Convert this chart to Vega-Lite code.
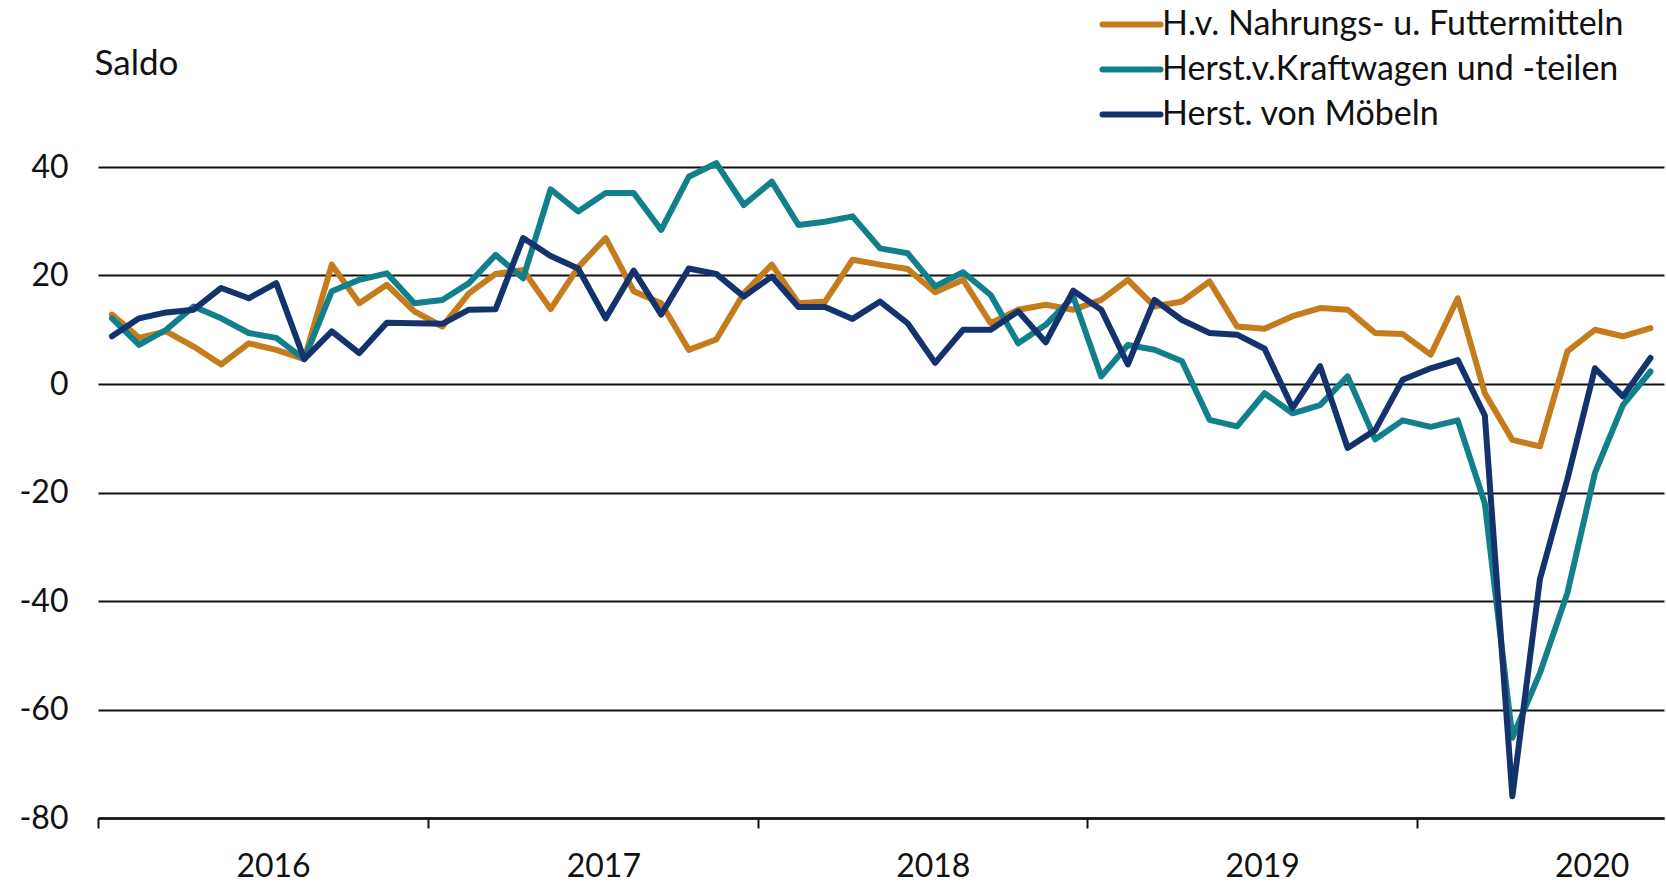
{
  "$schema": "https://vega.github.io/schema/vega-lite/v6.json",
  "width": 1566,
  "height": 651,
  "autosize": {"type": "none"},
  "padding": {"left": 98, "top": 167, "right": 2, "bottom": 65},
  "background": "white",
  "config": {
    "font": "Lato",
    "view": {"stroke": null},
    "axis": {"labelFont": "Lato", "titleFont": "Lato", "labelColor": "#111111", "titleColor": "#111111"},
    "legend": {"labelFont": "Lato"}
  },
  "data": {"values": [
    {"m":"2016-01","s":"H.v. Nahrungs- u. Futtermitteln","v":12.8},
    {"m":"2016-02","s":"H.v. Nahrungs- u. Futtermitteln","v":8.5},
    {"m":"2016-03","s":"H.v. Nahrungs- u. Futtermitteln","v":9.7},
    {"m":"2016-04","s":"H.v. Nahrungs- u. Futtermitteln","v":6.9},
    {"m":"2016-05","s":"H.v. Nahrungs- u. Futtermitteln","v":3.6},
    {"m":"2016-06","s":"H.v. Nahrungs- u. Futtermitteln","v":7.5},
    {"m":"2016-07","s":"H.v. Nahrungs- u. Futtermitteln","v":6.3},
    {"m":"2016-08","s":"H.v. Nahrungs- u. Futtermitteln","v":4.6},
    {"m":"2016-09","s":"H.v. Nahrungs- u. Futtermitteln","v":22.0},
    {"m":"2016-10","s":"H.v. Nahrungs- u. Futtermitteln","v":14.9},
    {"m":"2016-11","s":"H.v. Nahrungs- u. Futtermitteln","v":18.3},
    {"m":"2016-12","s":"H.v. Nahrungs- u. Futtermitteln","v":13.4},
    {"m":"2017-01","s":"H.v. Nahrungs- u. Futtermitteln","v":10.6},
    {"m":"2017-02","s":"H.v. Nahrungs- u. Futtermitteln","v":16.7},
    {"m":"2017-03","s":"H.v. Nahrungs- u. Futtermitteln","v":20.3},
    {"m":"2017-04","s":"H.v. Nahrungs- u. Futtermitteln","v":21.0},
    {"m":"2017-05","s":"H.v. Nahrungs- u. Futtermitteln","v":13.8},
    {"m":"2017-06","s":"H.v. Nahrungs- u. Futtermitteln","v":21.5},
    {"m":"2017-07","s":"H.v. Nahrungs- u. Futtermitteln","v":26.9},
    {"m":"2017-08","s":"H.v. Nahrungs- u. Futtermitteln","v":17.1},
    {"m":"2017-09","s":"H.v. Nahrungs- u. Futtermitteln","v":14.9},
    {"m":"2017-10","s":"H.v. Nahrungs- u. Futtermitteln","v":6.3},
    {"m":"2017-11","s":"H.v. Nahrungs- u. Futtermitteln","v":8.2},
    {"m":"2017-12","s":"H.v. Nahrungs- u. Futtermitteln","v":16.7},
    {"m":"2018-01","s":"H.v. Nahrungs- u. Futtermitteln","v":22.0},
    {"m":"2018-02","s":"H.v. Nahrungs- u. Futtermitteln","v":14.9},
    {"m":"2018-03","s":"H.v. Nahrungs- u. Futtermitteln","v":15.2},
    {"m":"2018-04","s":"H.v. Nahrungs- u. Futtermitteln","v":22.9},
    {"m":"2018-05","s":"H.v. Nahrungs- u. Futtermitteln","v":22.0},
    {"m":"2018-06","s":"H.v. Nahrungs- u. Futtermitteln","v":21.2},
    {"m":"2018-07","s":"H.v. Nahrungs- u. Futtermitteln","v":16.9},
    {"m":"2018-08","s":"H.v. Nahrungs- u. Futtermitteln","v":19.2},
    {"m":"2018-09","s":"H.v. Nahrungs- u. Futtermitteln","v":11.2},
    {"m":"2018-10","s":"H.v. Nahrungs- u. Futtermitteln","v":13.7},
    {"m":"2018-11","s":"H.v. Nahrungs- u. Futtermitteln","v":14.6},
    {"m":"2018-12","s":"H.v. Nahrungs- u. Futtermitteln","v":13.7},
    {"m":"2019-01","s":"H.v. Nahrungs- u. Futtermitteln","v":15.5},
    {"m":"2019-02","s":"H.v. Nahrungs- u. Futtermitteln","v":19.2},
    {"m":"2019-03","s":"H.v. Nahrungs- u. Futtermitteln","v":14.3},
    {"m":"2019-04","s":"H.v. Nahrungs- u. Futtermitteln","v":15.2},
    {"m":"2019-05","s":"H.v. Nahrungs- u. Futtermitteln","v":18.9},
    {"m":"2019-06","s":"H.v. Nahrungs- u. Futtermitteln","v":10.6},
    {"m":"2019-07","s":"H.v. Nahrungs- u. Futtermitteln","v":10.2},
    {"m":"2019-08","s":"H.v. Nahrungs- u. Futtermitteln","v":12.5},
    {"m":"2019-09","s":"H.v. Nahrungs- u. Futtermitteln","v":14.0},
    {"m":"2019-10","s":"H.v. Nahrungs- u. Futtermitteln","v":13.7},
    {"m":"2019-11","s":"H.v. Nahrungs- u. Futtermitteln","v":9.4},
    {"m":"2019-12","s":"H.v. Nahrungs- u. Futtermitteln","v":9.2},
    {"m":"2020-01","s":"H.v. Nahrungs- u. Futtermitteln","v":5.4},
    {"m":"2020-02","s":"H.v. Nahrungs- u. Futtermitteln","v":15.8},
    {"m":"2020-03","s":"H.v. Nahrungs- u. Futtermitteln","v":-1.7},
    {"m":"2020-04","s":"H.v. Nahrungs- u. Futtermitteln","v":-10.3},
    {"m":"2020-05","s":"H.v. Nahrungs- u. Futtermitteln","v":-11.5},
    {"m":"2020-06","s":"H.v. Nahrungs- u. Futtermitteln","v":6.0},
    {"m":"2020-07","s":"H.v. Nahrungs- u. Futtermitteln","v":10.0},
    {"m":"2020-08","s":"H.v. Nahrungs- u. Futtermitteln","v":8.8},
    {"m":"2020-09","s":"H.v. Nahrungs- u. Futtermitteln","v":10.3},
    {"m":"2016-01","s":"Herst.v.Kraftwagen und -teilen","v":12.1},
    {"m":"2016-02","s":"Herst.v.Kraftwagen und -teilen","v":7.2},
    {"m":"2016-03","s":"Herst.v.Kraftwagen und -teilen","v":10.0},
    {"m":"2016-04","s":"Herst.v.Kraftwagen und -teilen","v":14.3},
    {"m":"2016-05","s":"Herst.v.Kraftwagen und -teilen","v":12.1},
    {"m":"2016-06","s":"Herst.v.Kraftwagen und -teilen","v":9.4},
    {"m":"2016-07","s":"Herst.v.Kraftwagen und -teilen","v":8.5},
    {"m":"2016-08","s":"Herst.v.Kraftwagen und -teilen","v":4.6},
    {"m":"2016-09","s":"Herst.v.Kraftwagen und -teilen","v":17.1},
    {"m":"2016-10","s":"Herst.v.Kraftwagen und -teilen","v":19.2},
    {"m":"2016-11","s":"Herst.v.Kraftwagen und -teilen","v":20.4},
    {"m":"2016-12","s":"Herst.v.Kraftwagen und -teilen","v":14.9},
    {"m":"2017-01","s":"Herst.v.Kraftwagen und -teilen","v":15.5},
    {"m":"2017-02","s":"Herst.v.Kraftwagen und -teilen","v":18.6},
    {"m":"2017-03","s":"Herst.v.Kraftwagen und -teilen","v":23.8},
    {"m":"2017-04","s":"Herst.v.Kraftwagen und -teilen","v":19.5},
    {"m":"2017-05","s":"Herst.v.Kraftwagen und -teilen","v":35.9},
    {"m":"2017-06","s":"Herst.v.Kraftwagen und -teilen","v":31.8},
    {"m":"2017-07","s":"Herst.v.Kraftwagen und -teilen","v":35.2},
    {"m":"2017-08","s":"Herst.v.Kraftwagen und -teilen","v":35.2},
    {"m":"2017-09","s":"Herst.v.Kraftwagen und -teilen","v":28.4},
    {"m":"2017-10","s":"Herst.v.Kraftwagen und -teilen","v":38.2},
    {"m":"2017-11","s":"Herst.v.Kraftwagen und -teilen","v":40.7},
    {"m":"2017-12","s":"Herst.v.Kraftwagen und -teilen","v":33.0},
    {"m":"2018-01","s":"Herst.v.Kraftwagen und -teilen","v":37.3},
    {"m":"2018-02","s":"Herst.v.Kraftwagen und -teilen","v":29.3},
    {"m":"2018-03","s":"Herst.v.Kraftwagen und -teilen","v":29.9},
    {"m":"2018-04","s":"Herst.v.Kraftwagen und -teilen","v":30.9},
    {"m":"2018-05","s":"Herst.v.Kraftwagen und -teilen","v":25.0},
    {"m":"2018-06","s":"Herst.v.Kraftwagen und -teilen","v":24.1},
    {"m":"2018-07","s":"Herst.v.Kraftwagen und -teilen","v":18.0},
    {"m":"2018-08","s":"Herst.v.Kraftwagen und -teilen","v":20.6},
    {"m":"2018-09","s":"Herst.v.Kraftwagen und -teilen","v":16.4},
    {"m":"2018-10","s":"Herst.v.Kraftwagen und -teilen","v":7.5},
    {"m":"2018-11","s":"Herst.v.Kraftwagen und -teilen","v":10.9},
    {"m":"2018-12","s":"Herst.v.Kraftwagen und -teilen","v":16.1},
    {"m":"2019-01","s":"Herst.v.Kraftwagen und -teilen","v":1.4},
    {"m":"2019-02","s":"Herst.v.Kraftwagen und -teilen","v":7.2},
    {"m":"2019-03","s":"Herst.v.Kraftwagen und -teilen","v":6.3},
    {"m":"2019-04","s":"Herst.v.Kraftwagen und -teilen","v":4.2},
    {"m":"2019-05","s":"Herst.v.Kraftwagen und -teilen","v":-6.6},
    {"m":"2019-06","s":"Herst.v.Kraftwagen und -teilen","v":-7.8},
    {"m":"2019-07","s":"Herst.v.Kraftwagen und -teilen","v":-1.7},
    {"m":"2019-08","s":"Herst.v.Kraftwagen und -teilen","v":-5.4},
    {"m":"2019-09","s":"Herst.v.Kraftwagen und -teilen","v":-3.9},
    {"m":"2019-10","s":"Herst.v.Kraftwagen und -teilen","v":1.4},
    {"m":"2019-11","s":"Herst.v.Kraftwagen und -teilen","v":-10.2},
    {"m":"2019-12","s":"Herst.v.Kraftwagen und -teilen","v":-6.7},
    {"m":"2020-01","s":"Herst.v.Kraftwagen und -teilen","v":-7.9},
    {"m":"2020-02","s":"Herst.v.Kraftwagen und -teilen","v":-6.7},
    {"m":"2020-03","s":"Herst.v.Kraftwagen und -teilen","v":-22.0},
    {"m":"2020-04","s":"Herst.v.Kraftwagen und -teilen","v":-65.2},
    {"m":"2020-05","s":"Herst.v.Kraftwagen und -teilen","v":-53.3},
    {"m":"2020-06","s":"Herst.v.Kraftwagen und -teilen","v":-38.5},
    {"m":"2020-07","s":"Herst.v.Kraftwagen und -teilen","v":-16.4},
    {"m":"2020-08","s":"Herst.v.Kraftwagen und -teilen","v":-3.9},
    {"m":"2020-09","s":"Herst.v.Kraftwagen und -teilen","v":2.3},
    {"m":"2016-01","s":"Herst. von Möbeln","v":8.8},
    {"m":"2016-02","s":"Herst. von Möbeln","v":12.1},
    {"m":"2016-03","s":"Herst. von Möbeln","v":13.2},
    {"m":"2016-04","s":"Herst. von Möbeln","v":13.7},
    {"m":"2016-05","s":"Herst. von Möbeln","v":17.7},
    {"m":"2016-06","s":"Herst. von Möbeln","v":15.8},
    {"m":"2016-07","s":"Herst. von Möbeln","v":18.6},
    {"m":"2016-08","s":"Herst. von Möbeln","v":4.6},
    {"m":"2016-09","s":"Herst. von Möbeln","v":9.7},
    {"m":"2016-10","s":"Herst. von Möbeln","v":5.7},
    {"m":"2016-11","s":"Herst. von Möbeln","v":11.3},
    {"m":"2016-12","s":"Herst. von Möbeln","v":11.2},
    {"m":"2017-01","s":"Herst. von Möbeln","v":11.1},
    {"m":"2017-02","s":"Herst. von Möbeln","v":13.7},
    {"m":"2017-03","s":"Herst. von Möbeln","v":13.8},
    {"m":"2017-04","s":"Herst. von Möbeln","v":26.9},
    {"m":"2017-05","s":"Herst. von Möbeln","v":23.6},
    {"m":"2017-06","s":"Herst. von Möbeln","v":21.3},
    {"m":"2017-07","s":"Herst. von Möbeln","v":12.1},
    {"m":"2017-08","s":"Herst. von Möbeln","v":20.9},
    {"m":"2017-09","s":"Herst. von Möbeln","v":12.8},
    {"m":"2017-10","s":"Herst. von Möbeln","v":21.3},
    {"m":"2017-11","s":"Herst. von Möbeln","v":20.3},
    {"m":"2017-12","s":"Herst. von Möbeln","v":16.1},
    {"m":"2018-01","s":"Herst. von Möbeln","v":19.8},
    {"m":"2018-02","s":"Herst. von Möbeln","v":14.2},
    {"m":"2018-03","s":"Herst. von Möbeln","v":14.2},
    {"m":"2018-04","s":"Herst. von Möbeln","v":12.0},
    {"m":"2018-05","s":"Herst. von Möbeln","v":15.2},
    {"m":"2018-06","s":"Herst. von Möbeln","v":11.2},
    {"m":"2018-07","s":"Herst. von Möbeln","v":3.9},
    {"m":"2018-08","s":"Herst. von Möbeln","v":10.0},
    {"m":"2018-09","s":"Herst. von Möbeln","v":10.0},
    {"m":"2018-10","s":"Herst. von Möbeln","v":13.4},
    {"m":"2018-11","s":"Herst. von Möbeln","v":7.7},
    {"m":"2018-12","s":"Herst. von Möbeln","v":17.2},
    {"m":"2019-01","s":"Herst. von Möbeln","v":13.7},
    {"m":"2019-02","s":"Herst. von Möbeln","v":3.6},
    {"m":"2019-03","s":"Herst. von Möbeln","v":15.5},
    {"m":"2019-04","s":"Herst. von Möbeln","v":11.8},
    {"m":"2019-05","s":"Herst. von Möbeln","v":9.4},
    {"m":"2019-06","s":"Herst. von Möbeln","v":9.1},
    {"m":"2019-07","s":"Herst. von Möbeln","v":6.5},
    {"m":"2019-08","s":"Herst. von Möbeln","v":-4.4},
    {"m":"2019-09","s":"Herst. von Möbeln","v":3.3},
    {"m":"2019-10","s":"Herst. von Möbeln","v":-11.8},
    {"m":"2019-11","s":"Herst. von Möbeln","v":-8.5},
    {"m":"2019-12","s":"Herst. von Möbeln","v":0.8},
    {"m":"2020-01","s":"Herst. von Möbeln","v":2.9},
    {"m":"2020-02","s":"Herst. von Möbeln","v":4.4},
    {"m":"2020-03","s":"Herst. von Möbeln","v":-5.8},
    {"m":"2020-04","s":"Herst. von Möbeln","v":-76.0},
    {"m":"2020-05","s":"Herst. von Möbeln","v":-36.0},
    {"m":"2020-06","s":"Herst. von Möbeln","v":-17.5},
    {"m":"2020-07","s":"Herst. von Möbeln","v":2.9},
    {"m":"2020-08","s":"Herst. von Möbeln","v":-2.3},
    {"m":"2020-09","s":"Herst. von Möbeln","v":4.8}
  ]},
  "mark": {"type": "line", "strokeWidth": 6, "strokeJoin": "round", "strokeCap": "round"},
  "encoding": {
    "x": {
      "field": "m", "type": "temporal", "timeUnit": "utcyearmonth", "bandPosition": 0.5,
      "scale": {"domain": [{"year": 2016, "month": 1, "date": 1, "utc": true}, {"year": 2020, "month": 10, "date": 1, "utc": true}]},
      "axis": {
        "title": null,
        "values": [
          {"year": 2016, "month": 1, "date": 1, "utc": true},
          {"year": 2017, "month": 1, "date": 1, "utc": true},
          {"year": 2018, "month": 1, "date": 1, "utc": true},
          {"year": 2019, "month": 1, "date": 1, "utc": true},
          {"year": 2020, "month": 1, "date": 1, "utc": true}
        ],
        "labelExpr": "utcFormat(datum.value, '%Y')",
        "labelOffset": 175, "labelAlign": "center", "labelFlush": false, "labelOverlap": false, "labelBound": false,
        "labelFontSize": 32, "labelPadding": 23,
        "tickSize": 10, "tickWidth": 2, "tickColor": "#111111",
        "domainColor": "#111111", "domainWidth": 2.5,
        "grid": false
      }
    },
    "y": {
      "field": "v", "type": "quantitative",
      "scale": {"domain": [-80, 40], "nice": false, "zero": false},
      "axis": {
        "title": "Saldo", "titleAngle": 0, "titleAlign": "left", "titleBaseline": "middle",
        "titleX": -4, "titleY": -104, "titleFontSize": 35, "titleFontWeight": "normal",
        "values": [-80, -60, -40, -20, 0, 20, 40],
        "labelExpr": "'' + datum.value",
        "grid": true, "gridColor": "#111111", "gridWidth": 2.2,
        "domain": false, "ticks": false,
        "labelFontSize": 32, "labelPadding": 30
      }
    },
    "color": {
      "field": "s", "type": "nominal",
      "scale": {
        "domain": ["H.v. Nahrungs- u. Futtermitteln", "Herst.v.Kraftwagen und -teilen", "Herst. von Möbeln"],
        "range": ["#C47C1D", "#12808A", "#14336D"]
      },
      "legend": {
        "title": null, "orient": "none", "legendX": 1016, "legendY": -160, "padding": 0,
        "symbolType": "M-2,0H2", "symbolStrokeWidth": 6, "symbolSize": 841,
        "labelFontSize": 34, "labelColor": "#111111", "labelLimit": 700, "labelOffset": 13,
        "rowPadding": 10,
        "encode": {"symbols": {"update": {"strokeCap": {"value": "round"}}}}
      }
    }
  }
}
